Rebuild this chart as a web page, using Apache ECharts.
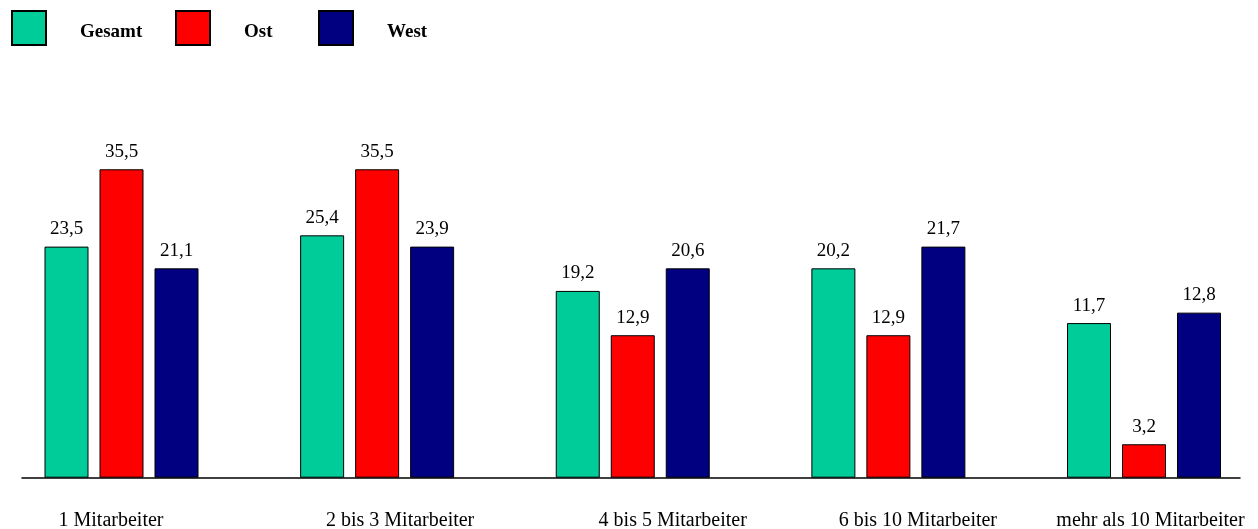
<!DOCTYPE html>
<html><head><meta charset="utf-8">
<script src="https://cdn.jsdelivr.net/npm/echarts@6/dist/echarts.min.js"></script>
<style>html,body{margin:0;padding:0;background:#fff}#c{width:1258px;height:529px}</style>
</head><body><div id="c"></div>
<script>
// Categories and series names
const categories = ['1 Mitarbeiter', '2 bis 3 Mitarbeiter', '4 bis 5 Mitarbeiter', '6 bis 10 Mitarbeiter', 'mehr als 10 Mitarbeiter'];
const seriesNames = ['Gesamt', 'Ost', 'West'];
// Printed values (labels above bars)
const gesamtLabels = [23.5, 25.4, 19.2, 20.2, 11.7];
const ostLabels    = [35.5, 35.5, 12.9, 12.9, 3.2];
const westLabels   = [21.1, 23.9, 20.6, 21.7, 12.8];
// Bar heights as drawn in the picture (same scale as 35,5)
const gesamtHeights = [26.6, 27.9, 21.5, 24.1, 17.8];
const ostHeights    = [35.5, 35.5, 16.4, 16.4, 3.85];
const westHeights   = [24.1, 26.6, 24.1, 26.6, 19.0];

// style / layout (kept separate from data)
const colors = ['#00CC99', '#FF0000', '#000080'];
const catLabelShift = [-10.5, 23, 40, 29.5, 6.5];
const font = '"Liberation Serif","Times New Roman",serif';

const labelSets = [gesamtLabels, ostLabels, westLabels];
const heightSets = [gesamtHeights, ostHeights, westHeights];
const fmt = v => v.toFixed(1).replace('.', ',');

const chart = echarts.init(document.getElementById('c'));
const legendLeft = [11, 175, 318];
chart.setOption({
  animation: false,
  legend: seriesNames.map((n, i) => ({
    data: [n], left: legendLeft[i], top: 10, padding: 0,
    itemWidth: 34, itemHeight: 34, icon: 'rect',
    selectedMode: false,
    formatter: name => '{t|' + name + '}',
    textStyle: {
      fontFamily: font, fontSize: 19, fontWeight: 'bold', color: '#000',
      rich: { t: { fontFamily: font, fontSize: 19, fontWeight: 'bold', color: '#000', padding: [8, 0, 0, 29] } }
    }
  })),
  grid: [
    { left: 121.5, right: 114, top: 130.2, bottom: 51.3, outerBoundsMode: 'none', containLabel: false },
    { left: 22, right: 18, top: 130.2, bottom: 51.3, outerBoundsMode: 'none', containLabel: false }
  ],
  xAxis: [
    {
      type: 'category', gridIndex: 0, boundaryGap: false,
      data: categories.map((c, i) => ({ value: c, textStyle: { padding: [0, 0, 0, 2 * catLabelShift[i]] } })),
      axisLine: { show: false }, axisTick: { show: false },
      axisLabel: { interval: 0, margin: 33, fontFamily: font, fontSize: 20, color: '#000' }
    },
    {
      type: 'category', gridIndex: 1, data: [],
      axisLine: { show: true, lineStyle: { color: '#000', width: 1.5 } },
      axisTick: { show: false }, axisLabel: { show: false }
    }
  ],
  yAxis: [
    { type: 'value', gridIndex: 0, min: 0, max: 40, show: false },
    { type: 'value', gridIndex: 1, min: 0, max: 40, show: false }
  ],
  series: seriesNames.map((n, s) => ({
    name: n, type: 'bar', xAxisIndex: 0, yAxisIndex: 0,
    data: heightSets[s],
    barWidth: 44, barGap: '25%',
    itemStyle: { color: colors[s], borderColor: '#000', borderWidth: 1 },
    label: {
      show: true, position: 'top', distance: 8,
      fontFamily: font, fontSize: 19, color: '#000',
      formatter: p => fmt(labelSets[s][p.dataIndex])
    }
  }))
});
</script></body></html>
